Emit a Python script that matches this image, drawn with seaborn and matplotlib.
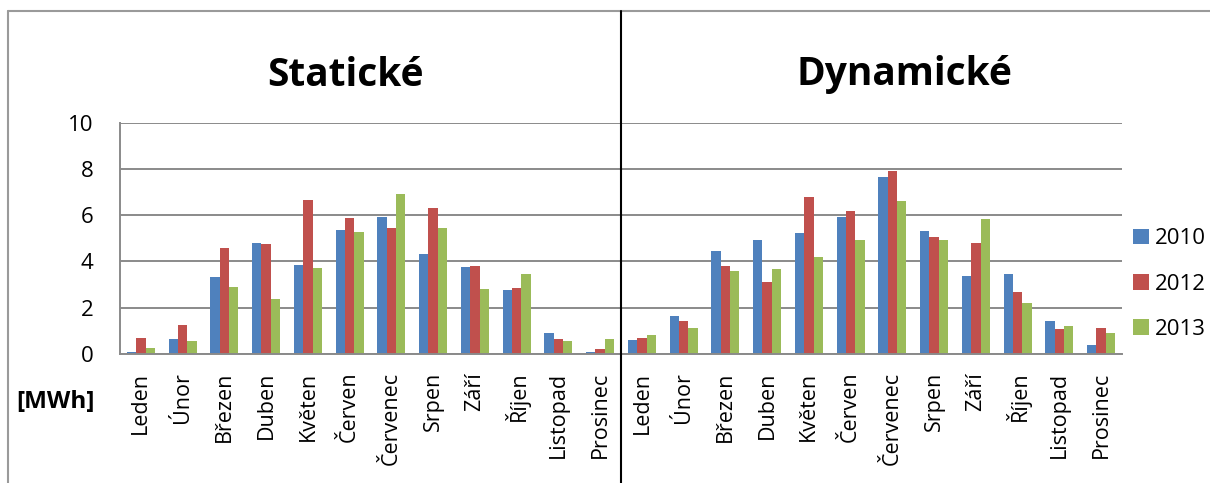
import numpy as np
import pandas as pd
import matplotlib
matplotlib.use("Agg")
import matplotlib.pyplot as plt
import matplotlib.transforms as mtransforms
from matplotlib.lines import Line2D
import seaborn as sns

# ---- data -------------------------------------------------------------
months = ["Leden", "Únor", "Březen", "Duben", "Květen", "Červen",
          "Červenec", "Srpen", "Září", "Říjen", "Listopad", "Prosinec"]
panels = ["Statické", "Dynamické"]
years = ["2010", "2012", "2013"]

static_2010 = [0.07, 0.65, 3.32, 4.79, 3.84, 5.37, 5.92, 4.32, 3.75, 2.74, 0.88, 0.06]
static_2012 = [0.68, 1.24, 4.60, 4.76, 6.68, 5.87, 5.45, 6.31, 3.80, 2.84, 0.65, 0.22]
static_2013 = [0.25, 0.55, 2.90, 2.35, 3.71, 5.28, 6.94, 5.45, 2.81, 3.45, 0.55, 0.62]

dynamic_2010 = [0.59, 1.64, 4.45, 4.92, 5.22, 5.92, 7.64, 5.31, 3.35, 3.45, 1.43, 0.38]
dynamic_2012 = [0.68, 1.42, 3.80, 3.09, 6.78, 6.18, 7.90, 5.05, 4.82, 2.66, 1.06, 1.10]
dynamic_2013 = [0.80, 1.10, 3.57, 3.65, 4.17, 4.95, 6.61, 4.95, 5.83, 2.21, 1.19, 0.88]

unit_label = "[MWh]"
y_ticks = [0, 2, 4, 6, 8, 10]

series = {
    ("Statické", "2010"): static_2010,
    ("Statické", "2012"): static_2012,
    ("Statické", "2013"): static_2013,
    ("Dynamické", "2010"): dynamic_2010,
    ("Dynamické", "2012"): dynamic_2012,
    ("Dynamické", "2013"): dynamic_2013,
}

rows = []
for (panel, year), vals in series.items():
    for m, v in zip(months, vals):
        rows.append({"slot": f"{panel}|{m}", "year": year, "value": v})
df = pd.DataFrame(rows)
slots = [f"{p}|{m}" for p in panels for m in months]

# ---- style ------------------------------------------------------------
sns.set_style("white")
plt.rcParams["font.family"] = ["Open Sans", "DejaVu Sans"]
plt.rcParams["text.color"] = "black"
plt.rcParams["xtick.color"] = "black"
plt.rcParams["ytick.color"] = "black"

palette = {"2010": "#4F81BD", "2012": "#C0504D", "2013": "#9BBB59"}
axis_grey = "#8a8a8a"

W, H = 1210, 483
fig = plt.figure(figsize=(W / 100, H / 100), dpi=100)
ax = fig.add_axes([120 / W, 1 - 353.7 / H, (1122 - 120) / W, (353.7 - 123) / H])

sns.barplot(data=df, x="slot", y="value", hue="year", order=slots,
            hue_order=years, palette=palette, width=0.67, saturation=1,
            errorbar=None, linewidth=0, ax=ax)

ax.set_xlim(-0.5, len(slots) - 0.5)
ax.set_ylim(0, 10)
ax.set_xlabel("")
ax.set_ylabel("")

# category labels and separators between categories
ax.set_xticks(range(len(slots)))
ax.set_xticklabels(months * 2, rotation=90, fontsize=15.5)
ax.tick_params(axis="x", which="major", length=0, pad=13, labelcolor="black")
ax.set_xticks(np.arange(-0.5, len(slots), 1), minor=True)
ax.tick_params(axis="x", which="minor", length=6, width=1.3, color=axis_grey)

ax.set_yticks(y_ticks)
ax.set_yticklabels([str(t) for t in y_ticks], fontsize=16)
ax.tick_params(axis="y", length=6, width=1.3, color=axis_grey, pad=13,
               labelcolor="black")

ax.yaxis.grid(True, color=axis_grey, linewidth=1.4)
ax.set_axisbelow(True)
for side in ["top", "right"]:
    ax.spines[side].set_visible(False)
for side in ["left", "bottom"]:
    ax.spines[side].set_color(axis_grey)
    ax.spines[side].set_linewidth(1.4)

# legend on the right
handles, labels = ax.get_legend_handles_labels()
ax.legend_.remove()
fig.legend(handles, labels, loc="center left",
           bbox_to_anchor=(1133 / W, 1 - 284 / H), frameon=False,
           fontsize=16, handlelength=0.7, handleheight=0.7,
           handletextpad=0.3, labelspacing=1.1, borderpad=0,
           borderaxespad=0, labelcolor="black")

# panel titles
fig.text(345 / W, 1 - 75 / H, panels[0], ha="center", va="center",
         fontsize=28, fontweight="bold", color="black")
fig.text(904 / W, 1 - 75 / H, panels[1], ha="center", va="center",
         fontsize=28, fontweight="bold", color="black")

fig.text(56 / W, 1 - 402 / H, unit_label, ha="center", va="center",
         fontsize=17.5, fontweight="bold", color="black")

# outer frame (top and left edges) and the divider between the two panels
top = 1 - 10.5 / H
fig.add_artist(Line2D([8 / W, 1], [top, top], transform=fig.transFigure,
                      color="#9a9a9a", linewidth=1.5))
fig.add_artist(Line2D([8 / W, 8 / W], [0, top], transform=fig.transFigure,
                      color="#9a9a9a", linewidth=1.5))
blend = mtransforms.blended_transform_factory(ax.transData, fig.transFigure)
fig.add_artist(Line2D([11.5, 11.5], [0, top], transform=blend,
                      color="black", linewidth=1.5, clip_on=False))

fig.savefig("out.png", dpi=100)
